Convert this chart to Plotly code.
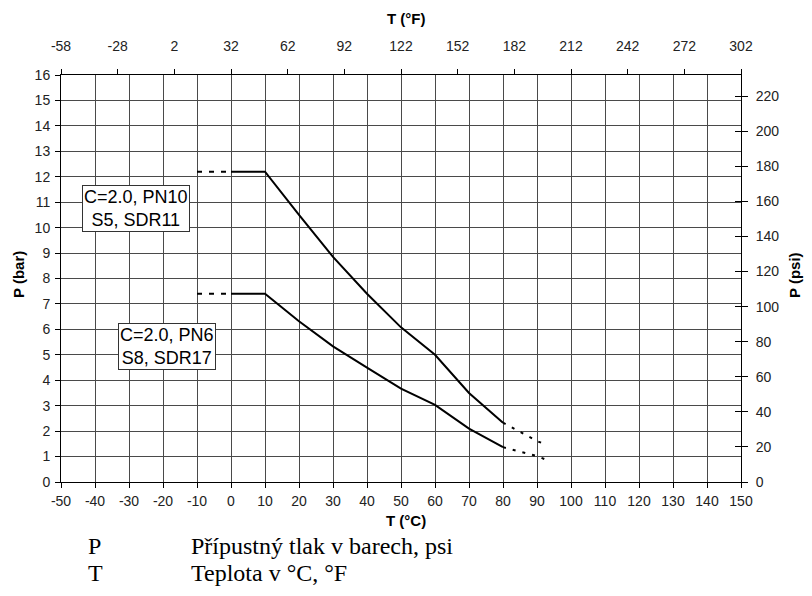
import plotly.graph_objects as go

# ---- data ----
temps_c = [0, 10, 20, 30, 40, 50, 60, 70, 80]
pn10_bar = [12.2, 12.2, 10.5, 8.85, 7.4, 6.08, 5.0, 3.5, 2.33]
pn6_bar = [7.4, 7.4, 6.32, 5.33, 4.5, 3.67, 3.03, 2.1, 1.37]

low_ext_c = [-10, 0]
pn10_low_ext = [12.2, 12.2]
pn6_low_ext = [7.4, 7.4]

high_ext_c = [80, 90, 93]
pn10_high_ext = [2.33, 1.61, 1.45]
pn6_high_ext = [1.37, 1.02, 0.86]

x_c_ticks = list(range(-50, 151, 10))
x_f_ticks = [-58, -28, 2, 32, 62, 92, 122, 152, 182, 212, 242, 272, 302]
y_bar_ticks = list(range(0, 17))
y_psi_ticks = [0, 20, 40, 60, 80, 100, 120, 140, 160, 180, 200, 220]

label_pn10 = "C=2.0, PN10<br>S5, SDR11"
label_pn6 = "C=2.0, PN6<br>S8, SDR17"
note_lines = [("P", "Přípustný tlak v barech, psi"), ("T", "Teplota v °C, °F")]

BAR_TO_PSI = 14.5038
c_range = [-50, 150]
f_range = [c * 1.8 + 32 for c in c_range]
bar_range = [0, 16]
psi_range = [b * BAR_TO_PSI for b in bar_range]

SANS = "Liberation Sans, Arial, sans-serif"
SERIF = "Liberation Serif, Times New Roman, serif"

fig = go.Figure()

line_main = dict(color="black", width=2)
fig.add_trace(go.Scatter(x=temps_c, y=pn10_bar, mode="lines", line=line_main, showlegend=False))
fig.add_trace(go.Scatter(x=temps_c, y=pn6_bar, mode="lines", line=line_main, showlegend=False))
dash_l = dict(color="black", width=2, dash="5px,7px")
fig.add_trace(go.Scatter(x=low_ext_c, y=pn10_low_ext, mode="lines", line=dash_l, showlegend=False))
fig.add_trace(go.Scatter(x=low_ext_c, y=pn6_low_ext, mode="lines", line=dash_l, showlegend=False))
dot_l = dict(color="black", width=2, dash="3px,7px")
fig.add_trace(go.Scatter(x=high_ext_c, y=pn10_high_ext, mode="lines", line=dot_l, showlegend=False))
fig.add_trace(go.Scatter(x=high_ext_c, y=pn6_high_ext, mode="lines", line=dot_l, showlegend=False))

# invisible traces to activate secondary axes
fig.add_trace(go.Scatter(x=f_range, y=bar_range, xaxis="x2", yaxis="y", mode="lines",
                         line=dict(width=0), hoverinfo="skip", showlegend=False))
fig.add_trace(go.Scatter(x=c_range, y=psi_range, xaxis="x", yaxis="y2", mode="lines",
                         line=dict(width=0), hoverinfo="skip", showlegend=False))
fig.add_trace(go.Scatter(x=c_range, y=psi_range, xaxis="x", yaxis="y3", mode="lines",
                         line=dict(width=0), hoverinfo="skip", showlegend=False))

tickfont = dict(family=SANS, size=14, color="#222")
grid = "#4a4a4a"

# The page body adds an 8px margin; the figure is sized so the page does not overflow
# (812-16 by 596-16) and margins are expressed in figure coordinates.
FIG_W, FIG_H = 796, 580
OFF = 8
PLOT_L, PLOT_R, PLOT_T, PLOT_B = 61, 741, 75, 482  # page coordinates in the reference

fig.update_layout(
    width=FIG_W, height=FIG_H,
    margin=dict(l=PLOT_L - OFF, r=FIG_W - (PLOT_R - OFF), t=PLOT_T - OFF,
                b=FIG_H - (PLOT_B - OFF), autoexpand=False),
    paper_bgcolor="white", plot_bgcolor="white",
    showlegend=False,
    xaxis=dict(range=c_range, tickvals=x_c_ticks, ticktext=[str(v) for v in x_c_ticks],
               showgrid=True, gridcolor=grid, gridwidth=1,
               zeroline=False, showline=True, linecolor="black", linewidth=1,
               ticks="outside", ticklen=5, tickcolor="black", tickfont=tickfont,
               ticklabelstandoff=1, automargin=False),
    xaxis2=dict(range=f_range, tickvals=x_f_ticks, ticktext=[str(v) for v in x_f_ticks],
                overlaying="x", side="top",
                showgrid=False, zeroline=False, showline=True, linecolor="black", linewidth=1,
                ticks="outside", ticklen=5, tickcolor="black", tickfont=tickfont,
                ticklabelstandoff=12, automargin=False),
    yaxis=dict(range=bar_range, tickvals=y_bar_ticks, showgrid=True, gridcolor=grid, gridwidth=1,
               zeroline=False, showline=True, linecolor="black", linewidth=1,
               ticks="outside", ticklen=5, tickcolor="black", tickfont=tickfont,
               ticklabelstandoff=2, automargin=False),
    yaxis2=dict(range=psi_range, tickvals=y_psi_ticks, overlaying="y", side="right",
                showgrid=False, zeroline=False, showline=True, linecolor="black", linewidth=1,
                ticks="outside", ticklen=6, tickcolor="black", tickfont=tickfont,
                ticklabelstandoff=5, automargin=False),
    yaxis3=dict(range=psi_range, tickvals=y_psi_ticks, overlaying="y", side="right",
                showgrid=False, zeroline=False, showline=False,
                ticks="inside", ticklen=6, tickcolor="black", showticklabels=False,
                automargin=False),
)


def px_to_paper_x(px):
    return (px - PLOT_L) / (PLOT_R - PLOT_L)


def px_to_paper_y(py):
    return (PLOT_B - py) / (PLOT_B - PLOT_T)


title_font = dict(family=SANS, size=15, color="black")
common = dict(xref="paper", yref="paper", showarrow=False, xanchor="center", yanchor="middle")
annotations = [
    dict(text="<b>T (°F)</b>", x=px_to_paper_x(406), y=px_to_paper_y(19), font=title_font, **common),
    dict(text="<b>T (°C)</b>", x=px_to_paper_x(406), y=px_to_paper_y(520), font=title_font, **common),
    dict(text="<b>P (bar)</b>", x=px_to_paper_x(18), y=px_to_paper_y(275), font=title_font,
         textangle=-90, **common),
    dict(text="<b>P (psi)</b>", x=px_to_paper_x(794), y=px_to_paper_y(275), font=title_font,
         textangle=-90, **common),
    dict(text=label_pn10, x=-27.8, y=10.77, xref="x", yref="y", showarrow=False,
         xanchor="center", yanchor="middle",
         font=dict(family=SANS, size=18, color="black"), bgcolor="white",
         bordercolor="#333", borderwidth=1, borderpad=1),
    dict(text=label_pn6, x=-18.8, y=5.33, xref="x", yref="y", showarrow=False,
         xanchor="center", yanchor="middle",
         font=dict(family=SANS, size=18, color="black"), bgcolor="white",
         bordercolor="#333", borderwidth=1, borderpad=1),
]
note_y = [546, 573]
serif_font = dict(family=SERIF, size=24, color="black")
for (sym, desc), py in zip(note_lines, note_y):
    annotations.append(dict(text=sym, x=px_to_paper_x(86), y=px_to_paper_y(py), xref="paper", yref="paper",
                            xanchor="left", yanchor="middle", showarrow=False, font=serif_font))
    annotations.append(dict(text=desc, x=px_to_paper_x(189), y=px_to_paper_y(py), xref="paper", yref="paper",
                            xanchor="left", yanchor="middle", showarrow=False, font=serif_font))
fig.update_layout(annotations=annotations)

fig.write_html("out.html")
